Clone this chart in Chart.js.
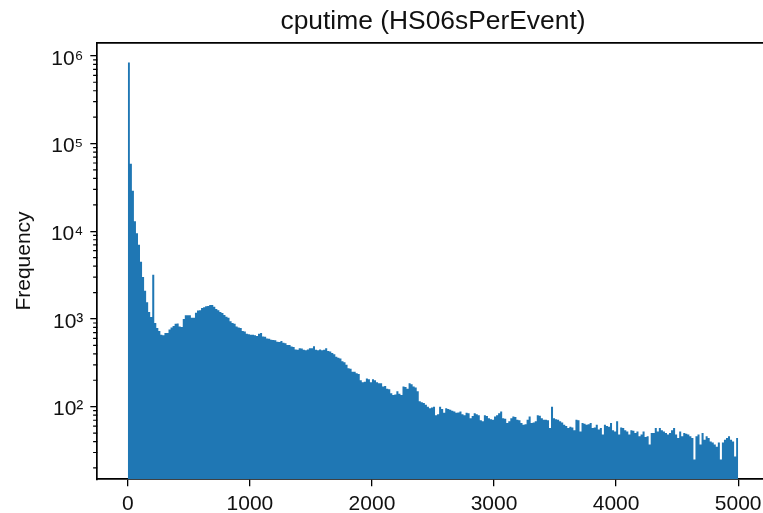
<!DOCTYPE html>
<html>
<head>
<meta charset="utf-8">
<title>cputime histogram</title>
<script src="https://cdn.jsdelivr.net/npm/chart.js@4.4.1/dist/chart.umd.min.js"></script>
<style>
    html, body { margin: 0; padding: 0; background: #fff; overflow: hidden; }
    canvas { display: block; }
</style>
</head>
<body>
<canvas id="hist" width="780" height="513"></canvas>
<script>
"use strict";
// histogram of cputime, 300 bins between 0 and 5000
const binStart = 0;
const binEnd = 5000;
const counts = [
    840000, 59000, 29000, 13000, 9500, 7000, 4500, 3000, 2100, 1550, 1200, 1050, 3200,
    900, 790, 730, 660, 650, 690, 690,
    760, 800, 830, 880, 890, 820, 810, 1000, 1100, 1100,
    1100, 1030, 1030, 1180, 1250, 1260, 1330, 1360, 1400, 1410,
    1440, 1440, 1380, 1300, 1260, 1200, 1170, 1110, 1060, 1030,
    940, 900, 880, 820, 800, 790, 730, 720, 680, 670,
    660, 660, 650, 640, 680, 690, 630, 625, 600, 595,
    580, 575, 570, 550, 545, 560, 535, 530, 505, 505,
    485, 480, 450, 445, 465, 460, 445, 440, 450, 465,
    465, 490, 445, 440, 450, 440, 445, 465, 430, 425,
    410, 395, 370, 360, 355, 330, 320, 300, 275, 270,
    250, 250, 240, 235, 200, 190, 192, 210, 205, 190,
    205, 200, 190, 185, 185, 170, 172, 160, 158, 142,
    136, 138, 150, 140, 136, 170, 168, 160, 185, 180,
    170, 165, 150, 115, 112, 110, 105, 100, 96, 98,
    100, 80, 82, 100, 94, 85, 96, 94, 92, 90,
    88, 85, 86, 88, 82, 80, 85, 84, 74, 78,
    84, 82, 80, 70, 68, 80, 78, 74, 72, 71,
    77, 80, 84, 88, 74, 73, 65, 68, 74, 77,
    76, 71, 70, 65, 62, 63, 71, 77, 65, 66,
    68, 80, 79, 74, 71, 71, 70, 57, 100, 74,
    72, 71, 68, 66, 62, 60, 57, 59, 58, 54,
    71, 70, 52, 65, 64, 62, 63, 65, 57, 58,
    62, 55, 57, 48, 62, 60, 59, 65, 54, 52,
    68, 48, 58, 57, 54, 52, 48, 54, 53, 50,
    52, 46, 48, 52, 45, 46, 37, 50, 50, 57,
    52, 57, 54, 52, 50, 48, 50, 54, 57, 48,
    44, 52, 46, 50, 49, 48, 46, 44, 25, 46,
    48, 37, 50, 42, 46, 44, 40, 39, 37, 35,
    39, 25, 39, 42, 44, 46, 42, 40, 27, 44
];
const xTicks = [0, 1000, 2000, 3000, 4000, 5000];
const yTicks = [1e2, 1e3, 1e4, 1e5, 1e6];
const yTickLabels = ['10\u00B2', '10\u00B3', '10\u2074', '10\u2075', '10\u2076'];
const titleText = 'cputime (HS06sPerEvent)';
const yLabel = 'Frequency';

const FONT = "'Liberation Sans', Arial, sans-serif";
const BLUE = '#1f77b4';

// the histogram is drawn as one filled step outline: a point at the left edge
// of every bin, plus the right edge of the last bin
let binWidth = (binEnd - binStart) / counts.length;
let steps = counts.map((c, i) => ({ x: binStart + i * binWidth, y: c }));
steps.push({ x: binEnd, y: counts[counts.length - 1] });

// minor ticks on the log axis (2..9 x each decade)
let yMinor = [];
for (let d = 10; d <= 1e6; d *= 10) {
    for (let k = 2; k <= 9; k++) yMinor.push(k * d);
}

const minorTicks = {
    id: 'minorTicks',
    afterDraw(chart) {
        const ys = chart.scales.y;
        const ctx = chart.ctx;
        const left = chart.chartArea.left;
        ctx.save();
        ctx.strokeStyle = '#000';
        ctx.lineWidth = 1.2;
        ctx.beginPath();
        for (const v of yMinor) {
            if (v < ys.min || v > ys.max) continue;
            let p = ys.getPixelForValue(v);
            ctx.moveTo(left - 4.2, p);
            ctx.lineTo(left, p);
        }
        ctx.stroke();
        ctx.restore();
    }
};

Chart.defaults.font.family = FONT;
Chart.defaults.color = '#111';

const chart = new Chart(document.getElementById('hist'), {
    type: 'line',
    data: {
        datasets: [{
            data: steps,
            stepped: 'before',
            fill: 'start',
            backgroundColor: BLUE,
            borderColor: BLUE,
            borderWidth: 0,
            pointRadius: 0,
            tension: 0
        }]
    },
    options: {
        responsive: false,
        devicePixelRatio: 1,
        animation: false,
        layout: { padding: { left: 0, top: 0, right: 11.3, bottom: 0 } },
        plugins: {
            legend: { display: false },
            tooltip: { enabled: false }
        },
        scales: {
            x: {
                type: 'linear',
                position: 'bottom',
                min: -250,
                max: 5250,
                offset: false,
                grid: { display: true, drawOnChartArea: false, tickLength: 7, color: '#000', lineWidth: 1.3 },
                border: { display: true, color: '#000', width: 1.7 },
                ticks: {
                    font: { size: 21 },
                    color: '#111',
                    padding: 5,
                    maxRotation: 0,
                    autoSkip: false,
                    callback: (value) => String(value)
                },
                afterBuildTicks: (scale) => { scale.ticks = xTicks.map(v => ({ value: v })); },
                afterFit: (scale) => { scale.height = 33.7; }
            },
            xTop: {
                type: 'linear',
                position: 'top',
                min: -250,
                max: 5250,
                offset: false,
                grid: { display: false },
                border: { display: true, color: '#000', width: 1.7 },
                ticks: { display: false },
                title: {
                    display: true,
                    text: titleText,
                    color: '#111',
                    font: { size: 26.4 },
                    padding: { top: 6, bottom: 0 }
                },
                afterFit: (scale) => { scale.height = 42.7; }
            },
            y: {
                type: 'logarithmic',
                position: 'left',
                min: 14.85,
                max: 1.413e6,
                grid: { display: true, drawOnChartArea: false, tickLength: 7, color: '#000', lineWidth: 1.3 },
                border: { display: true, color: '#000', width: 1.7 },
                ticks: {
                    font: { size: 21 },
                    color: '#111',
                    padding: 7,
                    labelOffset: 3,
                    autoSkip: false,
                    callback: (value) => {
                        let k = yTicks.indexOf(value);
                        return k >= 0 ? yTickLabels[k] : '';
                    }
                },
                title: {
                    display: true,
                    text: yLabel,
                    color: '#111',
                    font: { size: 21 },
                    padding: { top: 12, bottom: 0 }
                },
                afterBuildTicks: (scale) => { scale.ticks = yTicks.map(v => ({ value: v })); },
                afterFit: (scale) => { scale.width = 97.3; }
            }
        }
    },
    plugins: [minorTicks]
});
</script>
</body>
</html>
